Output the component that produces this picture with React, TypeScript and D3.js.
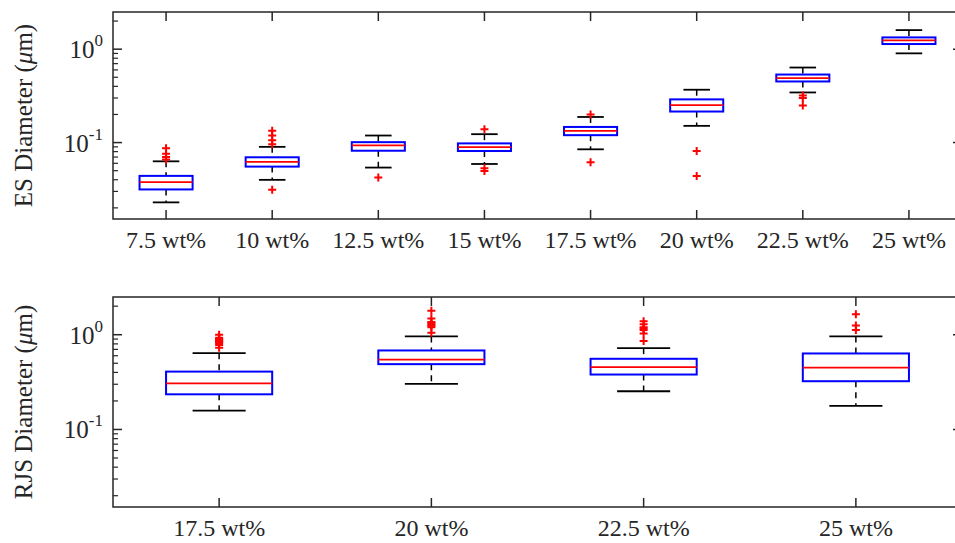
import React from 'react'
import * as d3 from 'd3'

// ES (electrospinning) panel
const esCategories = ['7.5 wt%', '10 wt%', '12.5 wt%', '15 wt%', '17.5 wt%', '20 wt%', '22.5 wt%', '25 wt%']
const esUpperWhisker = [0.063, 0.09, 0.119, 0.123, 0.188, 0.368, 0.636, 1.6]
const esQ3 = [0.044, 0.0696, 0.101, 0.098, 0.147, 0.29, 0.535, 1.336]
const esMedian = [0.0377, 0.062, 0.0933, 0.0896, 0.1336, 0.252, 0.489, 1.24]
const esQ1 = [0.0315, 0.0553, 0.0818, 0.0812, 0.12, 0.215, 0.451, 1.135]
const esLowerWhisker = [0.0229, 0.0399, 0.054, 0.059, 0.0847, 0.151, 0.344, 0.902]
const esOutliers = [
  [0.087, 0.076, 0.07, 0.066],
  [0.134, 0.119, 0.106, 0.096, 0.0312],
  [0.0422],
  [0.139, 0.053, 0.0497],
  [0.2, 0.0615],
  [0.0812, 0.044],
  [0.32, 0.3, 0.25],
  [],
]

// RJS panel
const rjsCategories = ['17.5 wt%', '20 wt%', '22.5 wt%', '25 wt%']
const rjsUpperWhisker = [0.638, 0.96, 0.722, 0.96]
const rjsQ3 = [0.408, 0.682, 0.557, 0.634]
const rjsMedian = [0.307, 0.547, 0.454, 0.45]
const rjsQ1 = [0.235, 0.489, 0.38, 0.323]
const rjsLowerWhisker = [0.158, 0.303, 0.253, 0.177]
const rjsOutliers = [
  [1.0, 0.93, 0.9, 0.88, 0.86, 0.84, 0.82, 0.78, 0.73],
  [1.79, 1.48, 1.36, 1.32, 1.28, 1.24, 1.2, 1.05],
  [1.39, 1.29, 1.2, 1.16, 1.12, 1.03, 0.86],
  [1.64, 1.25, 1.12],
]

const yDomain = [0.0152, 2.5]
const yMajor = [0.1, 1]
const yMinor = [0.02, 0.03, 0.04, 0.05, 0.06, 0.07, 0.08, 0.09, 0.2, 0.3, 0.4, 0.5, 0.6, 0.7, 0.8, 0.9, 2]

const font = 'Liberation Serif, serif'
const axisColor = '#262626'
const left = 113
const right = 962

type PanelProps = {
  top: number
  bottom: number
  label: string
  categories: string[]
  upper: number[]
  q3: number[]
  median: number[]
  q1: number[]
  lower: number[]
  outliers: number[][]
}

function BoxPanel(p: PanelProps) {
  const n = p.categories.length
  const x = d3.scaleLinear().domain([0.5, n + 0.5]).range([left, right])
  const y = d3.scaleLog().domain(yDomain).range([p.bottom, p.top])
  const unit = x(2) - x(1)
  const boxW = unit * 0.5
  const capW = unit * 0.25
  const midY = (p.top + p.bottom) / 2

  return (
    <g>
      {/* boxes */}
      {p.categories.map((c, i) => {
        const cx = x(i + 1)
        return (
          <g key={c}>
            <line x1={cx} x2={cx} y1={y(p.upper[i])} y2={y(p.q3[i])} stroke="#000" strokeWidth={1.5} strokeDasharray="6,5" />
            <line x1={cx} x2={cx} y1={y(p.q1[i])} y2={y(p.lower[i])} stroke="#000" strokeWidth={1.5} strokeDasharray="6,5" />
            <line x1={cx - capW / 2} x2={cx + capW / 2} y1={y(p.upper[i])} y2={y(p.upper[i])} stroke="#000" strokeWidth={1.8} />
            <line x1={cx - capW / 2} x2={cx + capW / 2} y1={y(p.lower[i])} y2={y(p.lower[i])} stroke="#000" strokeWidth={1.8} />
            <rect x={cx - boxW / 2} y={y(p.q3[i])} width={boxW} height={y(p.q1[i]) - y(p.q3[i])}
              fill="none" stroke="#0000ff" strokeWidth={2} />
            <line x1={cx - boxW / 2} x2={cx + boxW / 2} y1={y(p.median[i])} y2={y(p.median[i])} stroke="#ff0000" strokeWidth={1.8} />
            {p.outliers[i].map((v, j) => (
              <path key={j} d={`M${cx - 4},${y(v)}h8M${cx},${y(v) - 4}v8`} stroke="#ff0000" strokeWidth={2} />
            ))}
          </g>
        )
      })}

      {/* frame */}
      <rect x={left} y={p.top} width={right - left} height={p.bottom - p.top} fill="none" stroke={axisColor} strokeWidth={1.5} />

      {/* y ticks, left and right */}
      {yMajor.map(v => (
        <g key={'M' + v}>
          <line x1={left} x2={left + 9} y1={y(v)} y2={y(v)} stroke={axisColor} strokeWidth={1.5} />
          <line x1={right} x2={right - 9} y1={y(v)} y2={y(v)} stroke={axisColor} strokeWidth={1.5} />
          <text x={left - 10} y={y(v) + 9} textAnchor="end" fontFamily={font} fontSize={25} fill={axisColor}>
            10<tspan dy={-12} fontSize={17}>{Math.round(Math.log10(v))}</tspan>
          </text>
        </g>
      ))}
      {yMinor.map(v => (
        <g key={'m' + v}>
          <line x1={left} x2={left + 5} y1={y(v)} y2={y(v)} stroke={axisColor} strokeWidth={1.2} />
          <line x1={right} x2={right - 5} y1={y(v)} y2={y(v)} stroke={axisColor} strokeWidth={1.2} />
        </g>
      ))}

      {/* x ticks */}
      {p.categories.map((c, i) => (
        <g key={'x' + c}>
          <line x1={x(i + 1)} x2={x(i + 1)} y1={p.bottom} y2={p.bottom - 9} stroke={axisColor} strokeWidth={1.5} />
          <line x1={x(i + 1)} x2={x(i + 1)} y1={p.top} y2={p.top + 9} stroke={axisColor} strokeWidth={1.5} />
          <text x={x(i + 1)} y={p.bottom + 29} textAnchor="middle" fontFamily={font} fontSize={24} fill={axisColor}>{c}</text>
        </g>
      ))}

      <text transform={`translate(32,${midY}) rotate(-90)`} textAnchor="middle" fontFamily={font} fontSize={25} fill={axisColor}>
        {p.label} (<tspan fontStyle="italic">μ</tspan>m)
      </text>
    </g>
  )
}

export default function App() {
  return (
    <svg width={955} height={543} style={{ position: 'absolute', left: 0, top: 0, background: '#fff' }}>
      <rect width={955} height={543} fill="#fff" />
      <BoxPanel top={12} bottom={219} label="ES Diameter" categories={esCategories}
        upper={esUpperWhisker} q3={esQ3} median={esMedian} q1={esQ1} lower={esLowerWhisker} outliers={esOutliers} />
      <BoxPanel top={297} bottom={507} label="RJS Diameter" categories={rjsCategories}
        upper={rjsUpperWhisker} q3={rjsQ3} median={rjsMedian} q1={rjsQ1} lower={rjsLowerWhisker} outliers={rjsOutliers} />
    </svg>
  )
}
